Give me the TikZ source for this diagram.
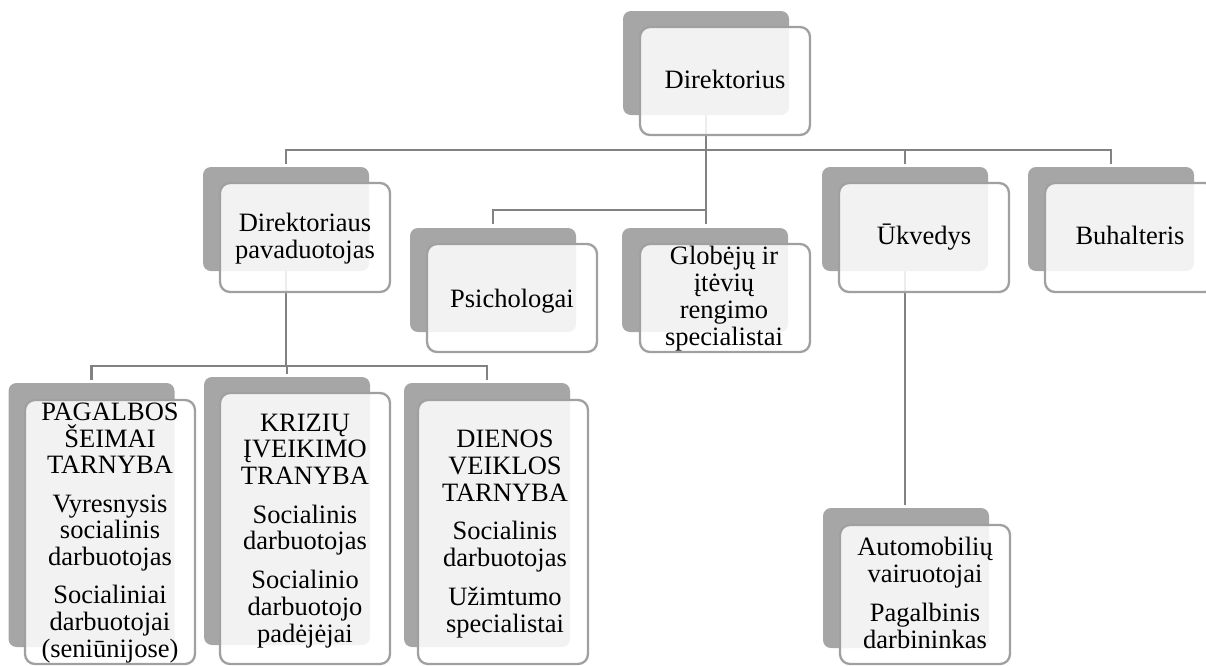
\documentclass[tikz,border=0pt]{standalone}
\usepackage{fontspec}
\setmainfont{Liberation Serif}
\definecolor{boxgray}{RGB}{166,166,166}
\definecolor{edgegray}{RGB}{160,160,160}
\definecolor{linkgray}{RGB}{130,130,130}

\begin{document}
\begin{tikzpicture}[x=1pt, y=-1pt,
		backbox/.style={fill=boxgray, rounded corners=8pt, inner sep=0pt, minimum width=166pt},
		frontbox/.style={draw=edgegray, line width=2.3pt, fill=white, fill opacity=0.86, rounded corners=10pt, inner sep=0pt, minimum width=170pt},
		link/.style={draw=linkgray, line width=2.9pt},
		txt/.style={font=\fontsize{26.5pt}{26.7pt}\selectfont, align=center, anchor=base, inner sep=0pt}]
				\useasboundingbox (0,0) rectangle (1206,665);
				\clip (0,0) rectangle (1206,665);
				
				\node[backbox, minimum height=104pt] (dirB) at (706,63) {};
				\node[backbox, minimum height=104pt] (pavB) at (286,219) {};
				\node[backbox, minimum height=104pt] (psyB) at (493,280) {};
				\node[backbox, minimum height=104pt] (glbB) at (705,280) {};
				\node[backbox, minimum height=104pt] (ukvB) at (905,219) {};
				\node[backbox, minimum height=104pt] (buhB) at (1111,219) {};
				\node[backbox, minimum height=264pt] (pagB) at (91.5,515) {};
				\node[backbox, minimum height=268pt] (kriB) at (287,511) {};
				\node[backbox, minimum height=264pt] (dieB) at (487,515) {};
				\node[backbox, minimum height=140pt] (autB) at (906,578) {};
				
				\coordinate (barA) at (0,150);
				\coordinate (barB) at (0,210);
				\coordinate (barC) at (0,366);
				
				\draw[link] ([yshift=3pt]pavB.north) -- (pavB.north |- barA) -- (buhB.north |- barA) -- ([yshift=3pt]buhB.north);
				\draw[link] (ukvB.north |- barA) -- ([yshift=3pt]ukvB.north);
				\draw[link] (dirB.south) -- ([yshift=4pt]dirB.south |- glbB.north);
				\draw[link] (dirB.south |- barB) -- (psyB.north |- barB) -- ([yshift=4pt]psyB.north);
				\draw[link] (pavB.south) -- (pavB.south |- barC);
				\draw[link] ([yshift=3pt]pagB.north) -- (pagB.north |- barC) -- (dieB.north |- barC) -- ([yshift=3pt]dieB.north);
				\draw[link] (kriB.north |- barC) -- ([yshift=3pt]kriB.north);
				\draw[link] (ukvB.south) -- ([yshift=3pt]ukvB.south |- autB.north);
				
				\node[frontbox, minimum height=108pt] (dirF) at (725,81) {};
				\node[frontbox, minimum height=109pt] (pavF) at (305,237.5) {};
				\node[frontbox, minimum height=108pt] (psyF) at (512,298) {};
				\node[frontbox, minimum height=108pt] (glbF) at (725,298) {};
				\node[frontbox, minimum height=109pt] (ukvF) at (924,237.5) {};
				\node[frontbox, minimum height=109pt] (buhF) at (1130,237.5) {};
				\node[frontbox, minimum height=264pt] (pagF) at (110,532) {};
				\node[frontbox, minimum height=271pt] (kriF) at (305,528.5) {};
				\node[frontbox, minimum height=264pt] (dieF) at (503,532) {};
				\node[frontbox, minimum height=139pt] (autF) at (925,594.5) {};
				
				% base = last line
				\node[txt] (dirT) at (725,88) {Direktorius};
				\node[txt] (pavT) at (305,258) {Direktoriaus\\pavaduotojas};
				\node[txt] (psyT) at (512,307) {Psichologai};
				\node[txt] (glbT) at (724,345) {Globėjų ir\\įtėvių\\rengimo\\specialistai};
				\node[txt] (ukvT) at (924,244) {Ūkvedys};
				\node[txt] (buhT) at (1130,244) {Buhalteris};
				\node[txt] (pagT) at (110,657) {PAGALBOS\\ŠEIMAI\\TARNYBA\\[11.5pt]Vyresnysis\\socialinis\\darbuotojas\\[11.5pt]Socialiniai\\darbuotojai\\(seniūnijose)};
				\node[txt] (kriT) at (305,642) {KRIZIŲ\\ĮVEIKIMO\\TRANYBA\\[12pt]Socialinis\\darbuotojas\\[12pt]Socialinio\\darbuotojo\\padėjėjai};
				\node[txt] (dieT) at (505,632) {DIENOS\\VEIKLOS\\TARNYBA\\[12pt]Socialinis\\darbuotojas\\[12pt]Užimtumo\\specialistai};
				\node[txt] (autT) at (925,648) {Automobilių\\vairuotojai\\[12pt]Pagalbinis\\darbininkas};
			\end{tikzpicture}
\end{document}
